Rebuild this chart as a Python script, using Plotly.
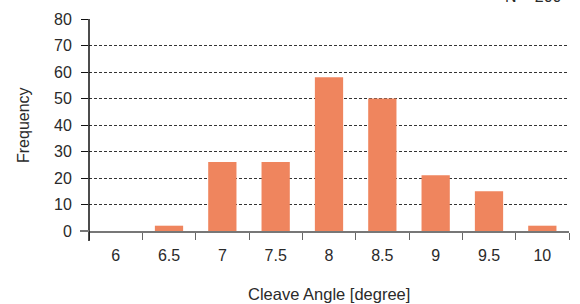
import plotly.graph_objects as go

categories = ["6", "6.5", "7", "7.5", "8", "8.5", "9", "9.5", "10"]
frequency = [0, 2, 26, 26, 58, 50, 21, 15, 2]
y_ticks = [0, 10, 20, 30, 40, 50, 60, 70, 80]

W, H = 580, 304
L, R, T, B = 89, 11, 19, 73
plot_h = H - T - B
plot_w = W - L - R

fig = go.Figure()
fig.add_trace(go.Bar(x=categories, y=frequency, marker=dict(color="#EF855E", line=dict(width=0)),
                     showlegend=False, hoverinfo="x+y"))

txt = "#2a2a2a"
font = dict(family="Liberation Sans, Arial, Helvetica, sans-serif", size=16, color=txt)

fig.update_layout(
    width=W, height=H,
    margin=dict(l=L, r=R, t=T, b=B, autoexpand=False),
    paper_bgcolor="white", plot_bgcolor="white",
    bargap=0.47,
    font=font,
    xaxis=dict(type="category", tickson="boundaries", ticks="outside", ticklen=7,
               tickcolor="#666666", tickwidth=1.2, showline=True, linecolor="#777777", linewidth=2,
               showgrid=False, tickfont=dict(size=16, color=txt), ticklabelstandoff=9,
               fixedrange=True, automargin=False),
    yaxis=dict(range=[0, 80], tickvals=y_ticks, ticks="outside", ticklen=7, tickcolor="#111111",
               showline=False, showgrid=True, gridcolor="#333333", gridwidth=1,
               griddash="3px,2px", zeroline=False, tickfont=dict(size=16, color=txt),
               ticklabelstandoff=6, fixedrange=True, automargin=False),
)

# y-axis line extending slightly below the baseline
fig.add_shape(type="line", xref="paper", yref="paper", x0=0, x1=0, y0=-10 / plot_h, y1=1,
              line=dict(color="#111111", width=1.5), layer="above")
# gray stub of the baseline left of the axis
fig.add_shape(type="line", xref="paper", yref="paper", x0=-9 / plot_w, x1=0, y0=0, y1=0,
              line=dict(color="#777777", width=2), layer="above")

fig.add_annotation(text="Cleave Angle [degree]", xref="paper", yref="paper", x=0.5, y=-(294 - 231) / plot_h,
                   showarrow=False, font=dict(size=16.5, color=txt), yanchor="middle")
fig.add_annotation(text="Frequency", xref="paper", yref="paper", x=-(89 - 23) / plot_w, y=0.5,
                   textangle=-90, showarrow=False, font=dict(size=16, color=txt),
                   xanchor="center", yanchor="middle")
fig.add_annotation(text="N = 200", xref="paper", yref="paper", x=1 - (569 - 564) / plot_w,
                   y=1 + (T - 7) / plot_h, xanchor="right", yanchor="bottom", showarrow=False,
                   font=dict(size=16, color=txt))

fig.write_html("out.html", config={"displayModeBar": False},
               post_script="document.body.style.margin='0';")
